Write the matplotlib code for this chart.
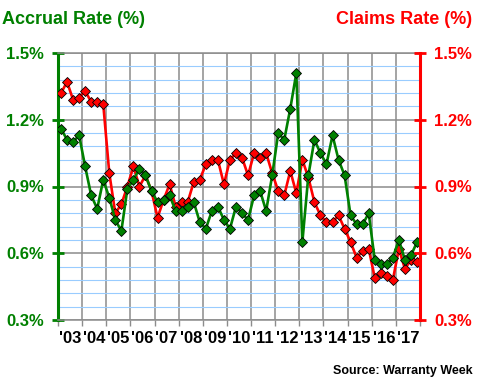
import numpy as np
import matplotlib
matplotlib.use('Agg')
import matplotlib.pyplot as plt
from matplotlib.ticker import FixedLocator, FuncFormatter

plt.rcParams['font.family'] = ['Liberation Sans', 'DejaVu Sans']
plt.rcParams['font.weight'] = 'bold'

# quarterly values, 2003 Q1 .. 2017 Q4
years = list(range(2003, 2018))
year_labels = ["'%02d" % (y % 100) for y in years]

accrual_rate = [1.16, 1.11, 1.10, 1.13,
                0.99, 0.86, 0.80, 0.93,
                0.85, 0.75, 0.70, 0.89,
                0.93, 0.98, 0.95, 0.88,
                0.83, 0.84, 0.86, 0.79,
                0.79, 0.81, 0.83, 0.74,
                0.71, 0.79, 0.81, 0.75,
                0.71, 0.81, 0.78, 0.75,
                0.86, 0.88, 0.79, 0.95,
                1.14, 1.11, 1.25, 1.41,
                0.65, 0.95, 1.11, 1.05,
                1.00, 1.13, 1.02, 0.95,
                0.77, 0.73, 0.73, 0.78,
                0.57, 0.55, 0.55, 0.58,
                0.66, 0.57, 0.59, 0.65]

claims_rate = [1.32, 1.37, 1.29, 1.30,
               1.33, 1.28, 1.28, 1.27,
               0.96, 0.78, 0.82, 0.90,
               0.99, 0.90, 0.95, 0.88,
               0.76, 0.84, 0.91, 0.81,
               0.83, 0.83, 0.92, 0.93,
               1.00, 1.02, 1.02, 0.91,
               1.02, 1.05, 1.03, 0.95,
               1.05, 1.03, 1.05, 0.96,
               0.88, 0.86, 0.97, 0.87,
               1.02, 0.94, 0.83, 0.77,
               0.74, 0.74, 0.77, 0.71,
               0.65, 0.58, 0.61, 0.62,
               0.49, 0.51, 0.50, 0.48,
               0.62, 0.53, 0.57, 0.56]

quarters = [y + (q + 0.5) / 4 for y in years for q in range(4)]

green = '#008000'
red = '#ff0000'
grid_gray = '#8c8c8c'
light_blue = '#99ccff'

fig = plt.figure(figsize=(4.8, 3.8), dpi=100)
ax = fig.add_axes([58/480, 1 - 320/380, 362/480, 267/380])

ax.set_xlim(2003, 2018)
ax.set_ylim(0.3, 1.5)

# gridlines
ax.yaxis.set_major_locator(FixedLocator([0.3, 0.6, 0.9, 1.2, 1.5]))
ax.yaxis.set_minor_locator(FixedLocator(np.arange(0.36, 1.5, 0.06)))
ax.grid(which='minor', axis='y', color=light_blue, lw=0.8, zorder=0)
ax.grid(which='major', axis='y', color=grid_gray, lw=1.1, zorder=0)
ax.xaxis.set_major_locator(FixedLocator(range(2003, 2019)))
ax.xaxis.set_minor_locator(FixedLocator([y + 0.5 for y in years]))
ax.grid(which='major', axis='x', color=grid_gray, lw=1.1, zorder=0)
ax.set_axisbelow(True)

ax.plot(quarters, claims_rate, color=red, lw=1.9, marker='D', ms=5,
        mfc=red, mec='black', mew=0.6, zorder=3)
ax.plot(quarters, accrual_rate, color=green, lw=1.9, marker='D', ms=5,
        mfc=green, mec='black', mew=0.6, zorder=4)

pct = FuncFormatter(lambda v, p: '%.1f%%' % v)
ax.yaxis.set_major_formatter(pct)
ax.tick_params(axis='y', which='major', direction='inout', length=8, width=2,
               color=green, labelcolor=green, labelsize=12, pad=6)
ax.tick_params(axis='y', which='minor', length=0)
ax.tick_params(axis='x', which='major', direction='out', length=4, width=1,
               color=grid_gray, labelbottom=False)
ax.tick_params(axis='x', which='minor', length=0, labelsize=12, pad=8)
ax.xaxis.set_minor_formatter(FuncFormatter(lambda v, p: year_labels[int(v) - 2003]))

for lbl in ax.get_xticklabels(minor=True):
    lbl.set_fontweight('bold')

ax.spines['left'].set_color(green)
ax.spines['left'].set_linewidth(2.2)
ax.spines['right'].set_visible(False)
ax.spines['top'].set_color(grid_gray)
ax.spines['top'].set_linewidth(1.1)
ax.spines['bottom'].set_color(grid_gray)
ax.spines['bottom'].set_linewidth(1.1)

ax2 = ax.twinx()
ax2.set_ylim(0.3, 1.5)
ax2.yaxis.set_major_locator(FixedLocator([0.3, 0.6, 0.9, 1.2, 1.5]))
ax2.yaxis.set_major_formatter(pct)
ax2.tick_params(axis='y', direction='inout', length=8, width=2,
                color=red, labelcolor=red, labelsize=12, pad=6)
for s in ['left', 'top', 'bottom']:
    ax2.spines[s].set_visible(False)
ax2.spines['right'].set_color(red)
ax2.spines['right'].set_linewidth(2.2)

fig.text(2/480, 1 - 20/380, 'Accrual Rate (%)', color=green, fontsize=13,
         fontweight='bold', ha='left', va='center')
fig.text(472/480, 1 - 20/380, 'Claims Rate (%)', color=red, fontsize=13,
         fontweight='bold', ha='right', va='center')
fig.text(473/480, 1 - 371/380, 'Source: Warranty Week', color='black',
         fontsize=9, fontweight='bold', ha='right', va='center')

fig.savefig('out.png', dpi=100)
